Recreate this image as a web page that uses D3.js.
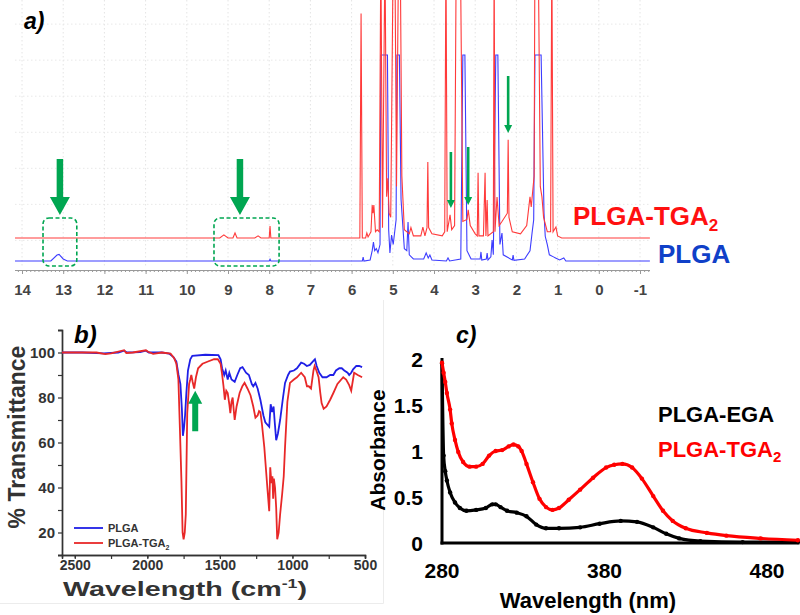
<!DOCTYPE html>
<html>
<head>
<meta charset="utf-8">
<script src="https://cdn.jsdelivr.net/npm/d3@7"></script>
<style>
  body { margin: 0; background: #fff; }
  svg { display: block; font-family: Arial, "Liberation Sans", sans-serif; }
</style>
</head>
<body>
<div id="chart"></div>
<script>
// ---- panel a: 1H NMR, [ppm, intensity]
const nmrTicks = [14, 13, 12, 11, 10, 9, 8, 7, 6, 5, 4, 3, 2, 1, 0, -1]
const nmrGrid = [10, 27.5, 45, 62.5, 80, 97.5, 115]
const nmrTGA = [
  [14.17,0],[9.2,0],[9.1,1.5],[9.0,0],[8.88,0],[8.83,2.4],[8.78,0],[8.35,0],[8.27,1],[8.2,0],
  [8.0,0],[7.98,5.8],[7.96,0],[5.8,0],[5.77,109],[5.74,0],[5.66,0],[5.63,2.4],[5.6,0.5],
  [5.53,3],[5.5,16],[5.48,12],[5.46,16],[5.42,3],[5.38,3.9],[5.33,3],[5.29,140],[5.25,5],
  [5.19,140],[5.15,20],[5.12,29],[5.09,12],[5.05,10],[4.99,140],[4.95,140],[4.91,25],
  [4.86,140],[4.82,140],[4.78,30],[4.72,4],[4.6,2],[4.56,5],[4.5,1],[4.32,1],[4.27,5.3],
  [4.22,1],[4.17,5],[4.15,36.9],[4.13,5],[4.05,2],[3.8,1],[3.74,3],[3.71,140],[3.68,3],
  [3.61,11.2],[3.57,4],[3.5,6],[3.46,140],[3.36,140],[3.3,8],[3.2,9],[3.17,13.6],[3.12,6],
  [3.0,2],[2.95,1],[2.93,31.6],[2.91,1],[2.8,1],[2.76,31.6],[2.74,1],[2.71,18.4],[2.69,1],
  [2.56,3],[2.54,140],[2.52,3],[2.47,19.9],[2.42,6],[2.35,8],[2.22,12],[2.2,47.6],[2.18,10],
  [2.1,3],[1.9,2],[1.75,6],[1.67,19.9],[1.64,15],[1.57,30],[1.55,140],[1.5,140],[1.47,140],
  [1.42,25],[1.38,19.9],[1.34,10],[1.25,3],[1.17,3],[1.14,140],[1.11,3],[1.04,5.3],[1.0,1],
  [0.9,0],[-1.24,0]
]
const nmrPLGA = [
  [14.17,0],[13.3,0],[13.15,2.9],[13.1,3.2],[13.0,1],[12.9,0],[8.0,0],[7.98,0.8],[7.96,0],
  [5.74,0],[5.72,1.9],[5.7,0],[5.55,0.5],[5.5,5],[5.47,9.2],[5.44,5],[5.4,6],[5.36,4],
  [5.31,8],[5.29,100],[5.13,100],[5.1,15],[5.07,3.9],[5.03,12.6],[4.99,8],[4.92,20],
  [4.9,100],[4.84,100],[4.8,30],[4.72,6],[4.66,5],[4.63,18.9],[4.6,3],[4.5,1],[4.25,1],
  [4.19,3.9],[4.14,1.5],[4.1,2.9],[4.05,0.5],[3.7,0],[3.66,1.5],[3.62,0],[3.35,1],
  [3.3,100],[3.25,100],[3.2,5],[3.1,1],[2.88,1],[2.86,4.4],[2.84,0.5],[2.73,1],[2.71,3.9],
  [2.69,0.5],[2.62,2],[2.59,10.2],[2.56,3],[2.5,100],[2.45,100],[2.4,8],[2.35,13.6],
  [2.32,3],[2.1,0.5],[2.08,2.9],[2.06,0.3],[1.8,1],[1.67,5],[1.62,13.6],[1.58,20],
  [1.55,100],[1.4,100],[1.33,23.3],[1.3,12],[1.25,8],[1.2,3],[1.1,2],[1.05,1.5],
  [0.95,0.5],[0.85,1.5],[0.8,0],[-1.24,0]
]
const tgaOffset = 11.2
// arrows: [ppm, tip, tail] ; boxes: [ppm from, ppm to, low, high]
const bigArrows = [[13.08, 22.3, 49.5], [8.71, 22.3, 49.5]]
const smallArrows = [[3.59, 25.7, 52.9], [3.17, 27.2, 55.3], [2.2, 62.1, 89.8]]
const dashBoxes = [[13.49, 12.67, -2.4, 20.9], [9.34, 7.76, -2.4, 20.9]]

// ---- panel b: FTIR, [wavenumber, %T]
const irXTicks = [2500, 2000, 1500, 1000, 500]
const irYTicks = [20, 40, 60, 80, 100]
const irPLGA = [
  [2588,100],[2450,100],[2300,99.6],[2200,100],[2160,100.8],[2140,100],[2050,100.2],[2010,100.8],
  [1990,100],[1900,100],[1850,99.5],[1820,98],[1800,96],[1785,90],[1772,86],[1762,75],[1755,63],
  [1748,66],[1740,72],[1731,82],[1720,92],[1704,97],[1690,98.5],[1600,99],[1510,98.8],[1495,97],
  [1485,93],[1470,90],[1460,92],[1446,88],[1435,91],[1420,88],[1398,87],[1380,90],[1360,93],
  [1344,93.5],[1320,91],[1300,90],[1280,86],[1270,85],[1255,86.5],[1240,84],[1221,79],[1200,72],
  [1187,69],[1160,67],[1150,77],[1140,73.5],[1130,76],[1122,69],[1112,61],[1100,64],[1085,70],
  [1065,80],[1051,86.5],[1030,90],[1017,91.5],[990,92],[969,93],[940,95.5],[920,95],[901,94],
  [880,94.5],[854,96.4],[845,97],[833,94],[815,91],[793,89],[765,89],[740,90],[718,90],[700,92],
  [677,93],[660,93],[643,92],[620,91],[609,90],[595,91],[582,92.5],[560,94],[540,94],[520,93.5]
]
const irTGA = [
  [2588,100],[2450,100],[2350,100],[2290,99.3],[2250,99.6],[2160,101],[2145,99.8],[2100,100],
  [2010,101],[1995,100.3],[1960,99.4],[1900,100],[1840,99.5],[1815,97.5],[1800,95],[1786,88],
  [1775,65],[1765,43],[1757,20],[1750,17],[1742,20],[1735,28],[1725,73],[1712,86],[1704,88],
  [1697,90],[1688,87],[1677,84],[1665,89],[1650,93],[1620,95],[1582,96],[1540,97],[1514,97],
  [1495,95],[1486,91],[1475,85],[1466,79],[1456,83],[1446,82],[1435,77],[1428,73],[1420,78],
  [1412,80],[1404,74],[1398,70],[1385,76],[1364,82],[1345,85],[1330,86.5],[1310,84],[1289,81],
  [1270,76],[1255,71],[1240,72],[1230,74],[1221,73.5],[1210,68],[1194,58],[1173,40],[1160,29.5],
  [1153,49],[1145,42],[1138,45],[1133,35],[1128,44],[1120,40],[1112,31],[1105,17],[1095,20],
  [1085,28],[1071,37],[1060,45],[1051,58],[1035,78],[1017,86.5],[990,88],[969,89],[940,91],
  [915,89],[900,85],[888,85],[872,84],[855,92],[847,94],[835,92],[820,89],[808,82],[799,77.5],
  [785,75],[765,76],[740,79],[718,82],[690,86],[650,89],[630,88],[609,85.5],[595,83],[575,91],
  [550,90],[520,89]
]
const irArrow = [1670, 83, 65]

// ---- panel c: UV-Vis, [nm, absorbance]
const uvXTicks = [280, 380, 480]
const uvYTicks = [0, 0.5, 1, 1.5, 2]
const uvTGA = [
  [280,1.96],[281,1.85],[282,1.75],[283,1.63],[285,1.45],[286,1.3],[288,1.12],[290,0.99],
  [293,0.88],[297,0.83],[301,0.83],[305,0.86],[309,0.95],[313,1.0],[317,1.01],[321,1.05],
  [324,1.07],[327,1.05],[329,1.0],[332,0.86],[336,0.66],[340,0.48],[344,0.39],[348,0.36],
  [352,0.38],[358,0.47],[365,0.58],[373,0.71],[381,0.82],[386,0.85],[391,0.86],[397,0.82],
  [403,0.7],[410,0.51],[416,0.35],[422,0.24],[430,0.16],[443,0.11],[455,0.08],[476,0.05],[499,0.03]
]
const uvEGA = [
  [280,1.95],[281,0.95],[282,0.78],[283,0.68],[285,0.55],[288,0.44],[291,0.38],[295,0.35],
  [301,0.36],[307,0.38],[311,0.42],[313,0.42],[316,0.39],[320,0.35],[326,0.33],[332,0.29],
  [338,0.2],[344,0.16],[352,0.16],[365,0.17],[377,0.21],[390,0.24],[400,0.23],[410,0.17],
  [418,0.1],[426,0.05],[439,0.02],[465,0.01],[499,0.01]
]

const width = 800
const height = 615
const green = '#00a651'

const svg = d3.select('#chart')
              .append('svg')
              .attr('width', width)
              .attr('height', height)

svg.append('rect').attr('width', width).attr('height', height).attr('fill', '#fff')

// arrow outline (vertical), tip and tail in pixels
function arrowPath(x, yTip, yTail, shaft, head, headLen) {
  const dir = yTail > yTip ? 1 : -1
  const yBase = yTip + dir * headLen
  return `M${x - shaft / 2},${yTail} L${x + shaft / 2},${yTail} L${x + shaft / 2},${yBase}` +
         ` L${x + head / 2},${yBase} L${x},${yTip} L${x - head / 2},${yBase} L${x - shaft / 2},${yBase} Z`
}

// ================= panel a =================
const xA = d3.scaleLinear().domain([14, -1]).range([22, 640])
const yA = d3.scaleLinear().domain([0, 100]).range([261, 55])
const a = svg.append('g')

svg.append('defs').append('clipPath').attr('id', 'clipA')
   .append('rect').attr('x', 15).attr('y', 0).attr('width', 636).attr('height', 268)

a.selectAll('.vgrid')
 .data(nmrTicks)
 .enter().append('line')
 .attr('x1', d => xA(d)).attr('x2', d => xA(d))
 .attr('y1', 0).attr('y2', 268)
 .attr('stroke', '#e4e4e4').attr('stroke-dasharray', '1.5,2.5')

a.selectAll('.hgrid')
 .data(nmrGrid)
 .enter().append('line')
 .attr('x1', 15).attr('x2', 650)
 .attr('y1', d => yA(d)).attr('y2', d => yA(d))
 .attr('stroke', '#e8e8e8').attr('stroke-dasharray', '1.5,2.5')

const lineA = d3.line().x(d => xA(d[0]))
const plotA = a.append('g').attr('clip-path', 'url(#clipA)')
plotA.append('path')
     .datum(nmrPLGA)
     .attr('d', lineA.y(d => yA(d[1])))
     .attr('fill', 'none').attr('stroke', '#3d3dff').attr('stroke-width', 1.1)
plotA.append('path')
     .datum(nmrTGA)
     .attr('d', d3.line().x(d => xA(d[0])).y(d => yA(d[1] + tgaOffset)))
     .attr('fill', 'none').attr('stroke', '#ff3a3a').attr('stroke-width', 1.1)

// axis
const axA = a.append('g').attr('transform', 'translate(0, 270)')
axA.call(d3.axisBottom(xA).tickValues(d3.range(-12, 142).map(v => v / 10)).tickSize(2).tickFormat(''))
axA.append('g').call(d3.axisBottom(xA).tickValues(nmrTicks).tickSize(4).tickPadding(10).tickFormat(d => String(d)))
axA.selectAll('.domain').attr('d', 'M15,0.5H650').attr('stroke', '#999')
axA.selectAll('line').attr('stroke', '#999')
axA.selectAll('text')
   .attr('fill', '#444').attr('font-size', 15).attr('font-weight', 'bold')
   .attr('font-family', 'Arial, "Liberation Sans", sans-serif')

// dashed boxes and arrows
a.selectAll('.box')
 .data(dashBoxes)
 .enter().append('rect')
 .attr('x', d => xA(d[0])).attr('y', d => yA(d[3]))
 .attr('width', d => xA(d[1]) - xA(d[0])).attr('height', d => yA(d[2]) - yA(d[3]))
 .attr('rx', 6).attr('fill', 'none')
 .attr('stroke', green).attr('stroke-width', 1.6).attr('stroke-dasharray', '4,2.5')

a.selectAll('.bigArrow')
 .data(bigArrows)
 .enter().append('path')
 .attr('d', d => arrowPath(xA(d[0]), yA(d[1]), yA(d[2]), 6.5, 20, 18))
 .attr('fill', green)

a.selectAll('.smallArrow')
 .data(smallArrows)
 .enter().append('path')
 .attr('d', d => arrowPath(xA(d[0]), yA(d[1]), yA(d[2]), 2.6, 8, 8))
 .attr('fill', green)

a.append('text').attr('x', 573).attr('y', 225)
 .attr('fill', '#ff1010').attr('font-size', 26).attr('font-weight', 'bold')
 .text('PLGA-TGA')
 .append('tspan').attr('font-size', 17).attr('dy', 6).text('2')
a.append('text').attr('x', 658).attr('y', 263)
 .attr('fill', '#1040c8').attr('font-size', 26).attr('font-weight', 'bold')
 .text('PLGA')
a.append('text').attr('x', 24).attr('y', 29)
 .attr('font-size', 23).attr('font-weight', 'bold').attr('font-style', 'italic')
 .text('a)')

// ================= panel b =================
const xB = d3.scaleLinear().domain([2588, 500]).range([62, 365])
const yB = d3.scaleLinear().domain([10, 110]).range([555, 330])
const b = svg.append('g')

b.append('path').attr('d', 'M0,603.5H383.5V300').attr('fill', 'none').attr('stroke', '#ececec')

const axBx = b.append('g').attr('transform', 'translate(0, 555)')
axBx.call(d3.axisBottom(xB).tickValues([2500, 2250, 2000, 1750, 1500, 1250, 1000, 750, 500]).tickSize(4).tickFormat(''))
axBx.append('g').call(d3.axisBottom(xB).tickValues(irXTicks).tickSize(3).tickPadding(2).tickFormat(d => String(d)))
const axBy = b.append('g').attr('transform', 'translate(62, 0)')
axBy.call(d3.axisLeft(yB).tickValues([10, 30, 50, 70, 90, 110]).tickSize(4).tickFormat(''))
axBy.append('g').call(d3.axisLeft(yB).tickValues(irYTicks).tickSize(4).tickPadding(3).tickFormat(d => String(d)))
b.selectAll('.domain').attr('stroke', '#333').attr('stroke-width', 1.4)
b.selectAll('.tick line').attr('stroke', '#333').attr('stroke-width', 1.2)
b.selectAll('.tick text')
 .attr('fill', '#333').attr('font-size', 15).attr('font-weight', 'bold')
 .attr('font-family', 'Arial, "Liberation Sans", sans-serif')
axBx.selectAll('.tick text').attr('font-size', 14)

const lineB = d3.line().x(d => xB(d[0])).y(d => yB(d[1]))
b.append('path').datum(irPLGA).attr('d', lineB)
 .attr('fill', 'none').attr('stroke', '#1f1fe6').attr('stroke-width', 1.8)
b.append('path').datum(irTGA).attr('d', lineB)
 .attr('fill', 'none').attr('stroke', '#e82828').attr('stroke-width', 1.8)

b.append('path')
 .attr('d', arrowPath(xB(irArrow[0]), yB(irArrow[1]), yB(irArrow[2]), 6, 14, 13))
 .attr('fill', green)

// legend
const legB = [['PLGA', '#1f1fe6', 528], ['PLGA-TGA', '#e82828', 543]]
legB.forEach(([name, color, y], i) => {
  b.append('line').attr('x1', 74).attr('x2', 103).attr('y1', y).attr('y2', y)
   .attr('stroke', color).attr('stroke-width', 1.8)
  const t = b.append('text').attr('x', 108).attr('y', y + 4)
             .attr('fill', '#333').attr('font-size', 11).attr('font-weight', 'bold').text(name)
  if (i === 1) t.append('tspan').attr('font-size', 7).attr('dy', 3).text('2')
})

b.append('text').attr('x', 74).attr('y', 343)
 .attr('font-size', 24).attr('font-weight', 'bold').attr('font-style', 'italic')
 .text('b)')
b.append('text')
 .attr('transform', 'translate(25, 437) rotate(-90)')
 .attr('text-anchor', 'middle').attr('fill', '#333')
 .attr('font-size', 23).attr('font-weight', 'bold')
 .text('% Transmittance')
const xtB = b.append('text').attr('x', 63).attr('y', 596)
             .attr('fill', '#333').attr('font-size', 21).attr('font-weight', 'bold')
             .attr('textLength', 244).attr('lengthAdjust', 'spacingAndGlyphs')
xtB.append('tspan').text('Wavelength (cm')
xtB.append('tspan').attr('font-size', 13).attr('dy', -8).text('-1')
xtB.append('tspan').attr('dy', 8).text(')')

// ================= panel c =================
const xC = d3.scaleLinear().domain([280, 500]).range([442, 799.5])
const yC = d3.scaleLinear().domain([0, 2]).range([543, 359])
const c = svg.append('g')

c.append('line').attr('x1', xC(280)).attr('x2', xC(280)).attr('y1', yC(2) - 1).attr('y2', yC(0) + 1.5)
 .attr('stroke', '#000').attr('stroke-width', 3)
c.append('line').attr('x1', xC(280) - 1.5).attr('x2', xC(500)).attr('y1', yC(0)).attr('y2', yC(0))
 .attr('stroke', '#000').attr('stroke-width', 3)

c.selectAll('.ytick')
 .data(uvYTicks)
 .enter().append('text')
 .attr('x', 423).attr('y', d => yC(d) + 7.5)
 .attr('text-anchor', 'end').attr('font-size', 21).attr('font-weight', 'bold')
 .text(d => String(d))
c.selectAll('.xtick')
 .data(uvXTicks)
 .enter().append('text')
 .attr('x', d => xC(d)).attr('y', 578)
 .attr('text-anchor', 'middle').attr('font-size', 21).attr('font-weight', 'bold')
 .text(d => String(d))

const lineC = d3.line().x(d => xC(d[0])).y(d => yC(d[1])).curve(d3.curveMonotoneX)
const uvSeries = [[uvEGA, '#000'], [uvTGA, '#ff0000']]
uvSeries.forEach(([data, color]) => {
  c.append('path').datum(data).attr('d', lineC)
   .attr('fill', 'none').attr('stroke', color).attr('stroke-width', 3.2)
  c.selectAll(null).data(data).enter().append('circle')
   .attr('cx', d => xC(d[0])).attr('cy', d => yC(d[1])).attr('r', 2.2).attr('fill', color)
})

c.append('text').attr('x', 658).attr('y', 422)
 .attr('font-size', 22).attr('font-weight', 'bold').text('PLGA-EGA')
c.append('text').attr('x', 658).attr('y', 457)
 .attr('fill', '#ff0000').attr('font-size', 22).attr('font-weight', 'bold')
 .text('PLGA-TGA')
 .append('tspan').attr('font-size', 15).attr('dy', 5).text('2')

c.append('text').attr('x', 456).attr('y', 343)
 .attr('font-size', 23).attr('font-weight', 'bold').attr('font-style', 'italic')
 .text('c)')
c.append('text')
 .attr('transform', 'translate(385, 450) rotate(-90)')
 .attr('text-anchor', 'middle')
 .attr('font-size', 21).attr('font-weight', 'bold')
 .text('Absorbance')
c.append('text').attr('x', 588).attr('y', 608)
 .attr('text-anchor', 'middle')
 .attr('font-size', 22).attr('font-weight', 'bold')
 .text('Wavelength (nm)')
</script>
</body>
</html>
